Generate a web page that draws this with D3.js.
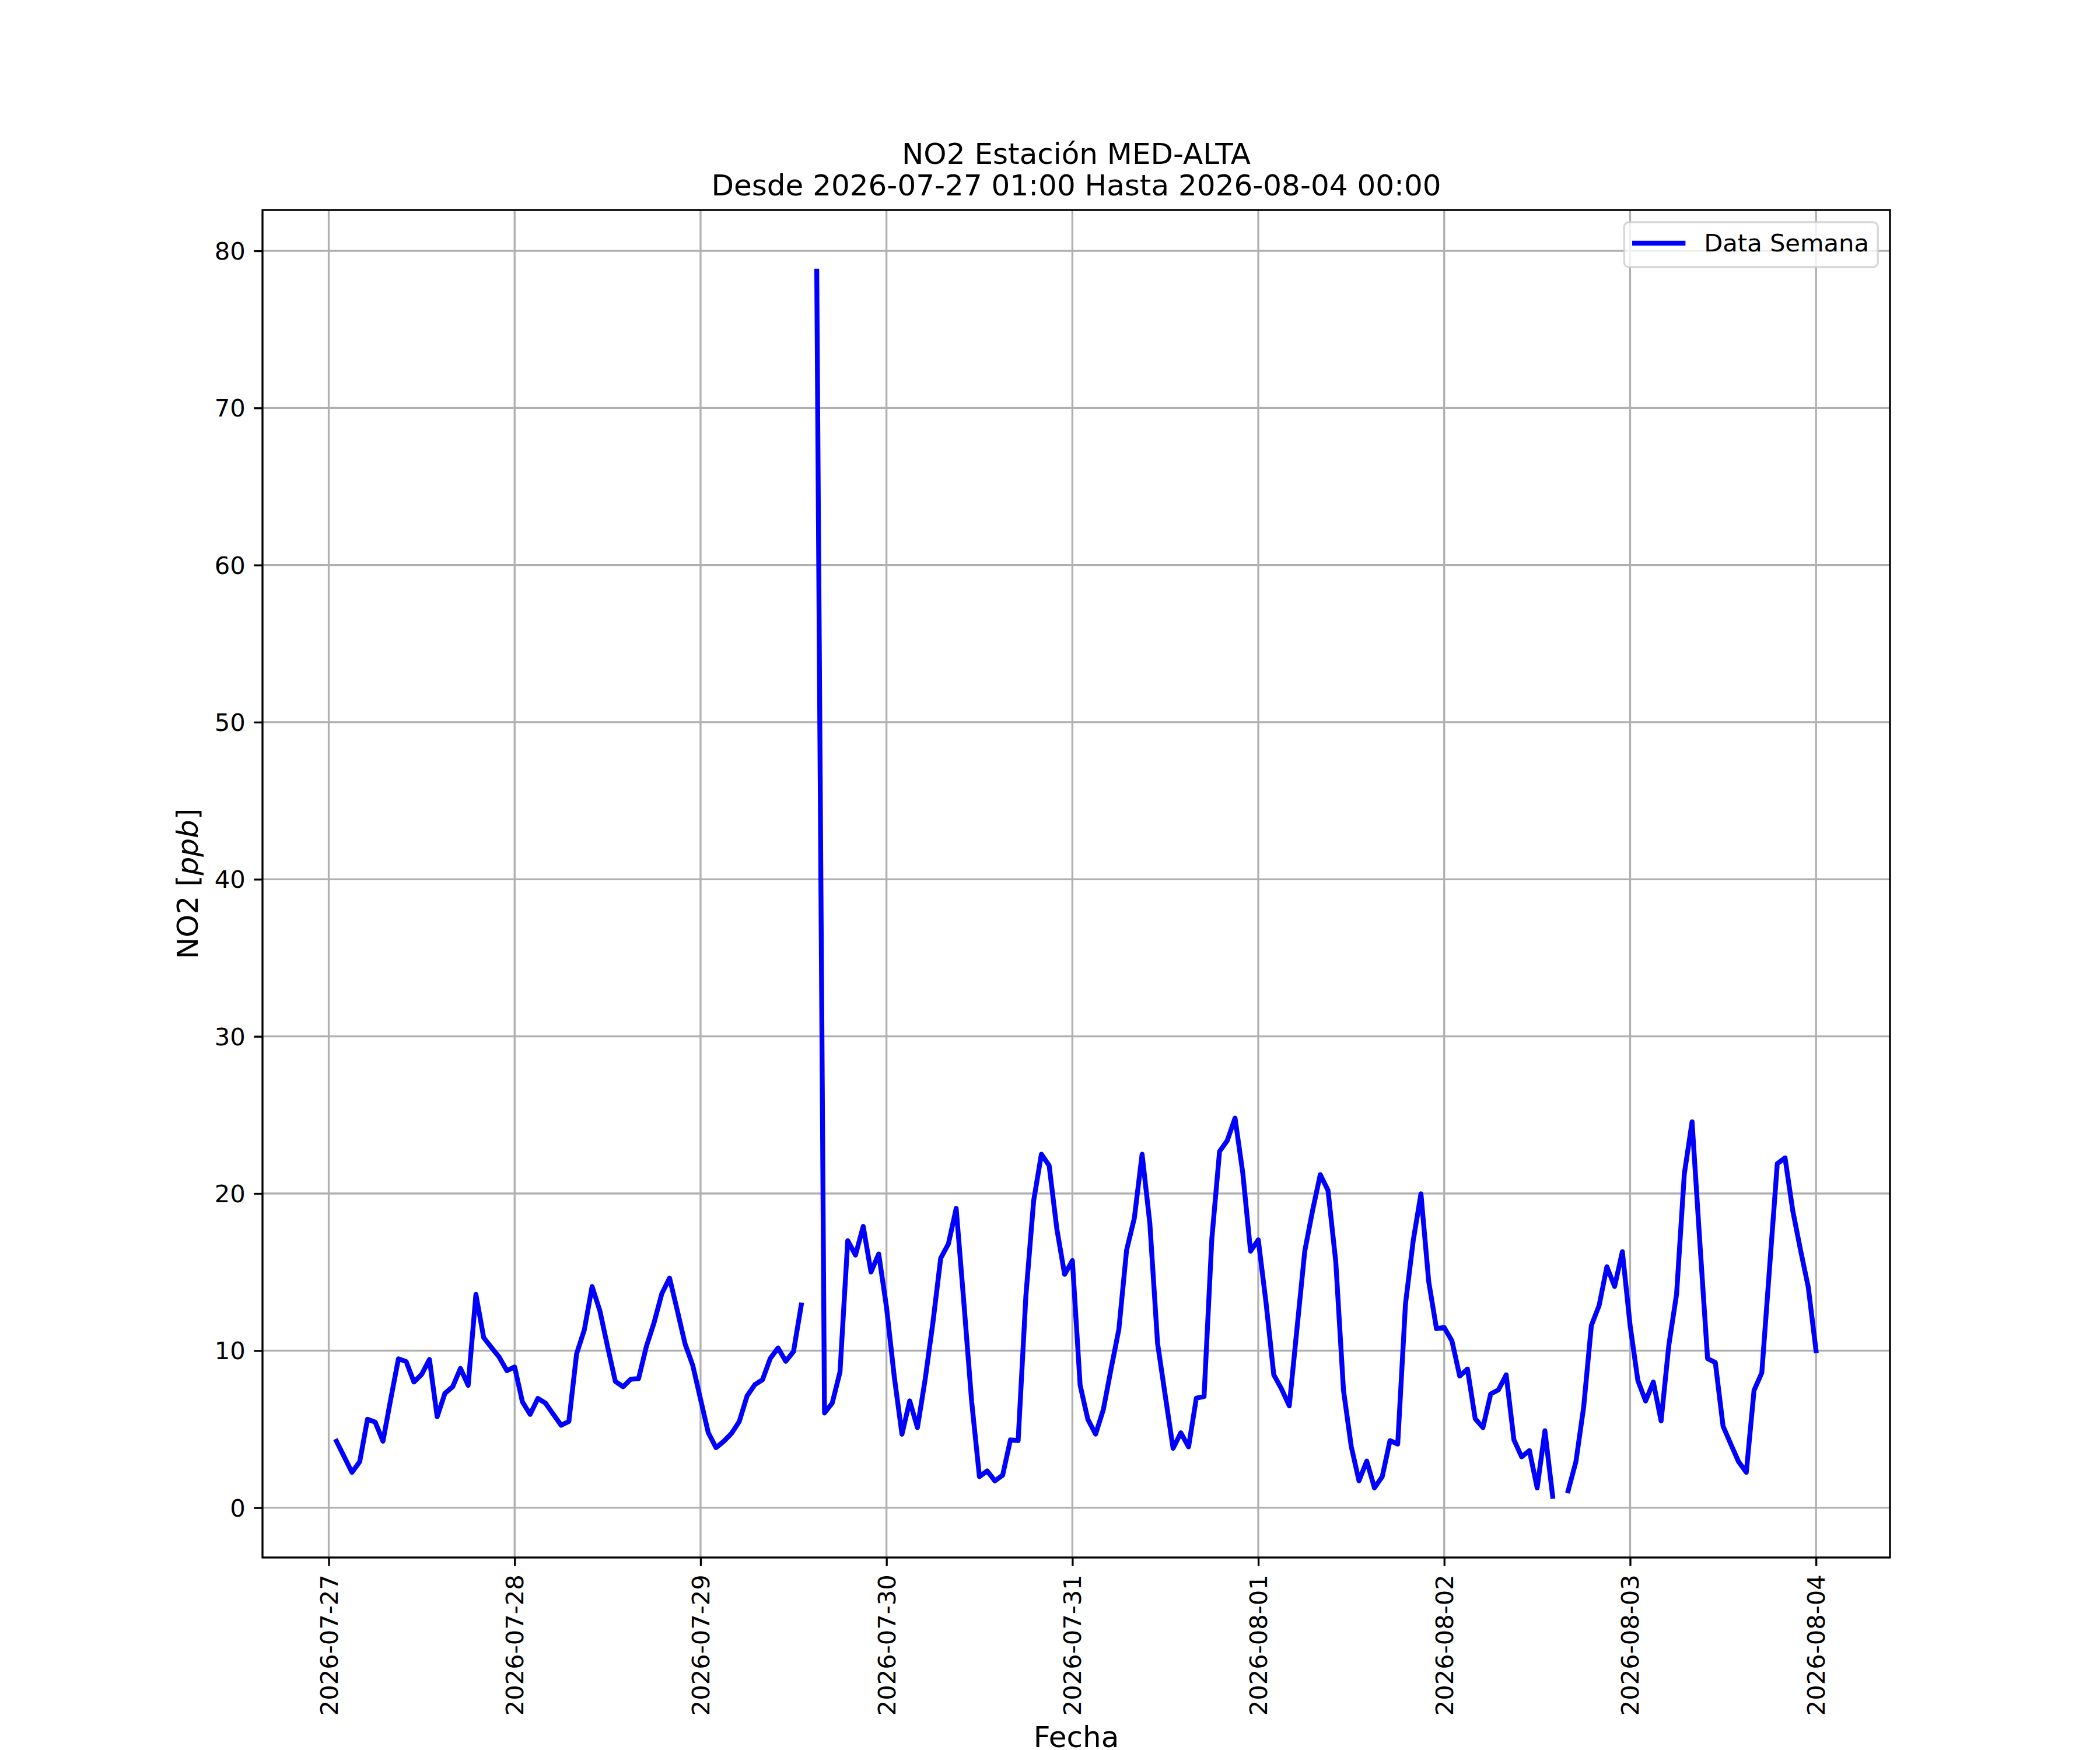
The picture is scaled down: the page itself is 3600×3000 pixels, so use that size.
<!DOCTYPE html>
<html>
<head>
<meta charset="utf-8">
<script src="https://cdn.jsdelivr.net/npm/d3@7"></script>
<style>
  body { margin: 0; background: #fff; }
  text { font-family: "DejaVu Sans", sans-serif; fill: #000; }
</style>
</head>
<body>
<svg id="chart" width="3600" height="3000"></svg>
<script>
// hourly NO2 readings, first one at 2026-07-27 01:00 (null = missing hour)
const startTime = Date.UTC(2026, 6, 27, 1);
const no2Values = [
  4.23, 3.24, 2.25, 2.93, 5.63, 5.45, 4.23, 6.9, 9.48, 9.30, 8.0, 8.49,
  9.44, 5.79, 7.28, 7.70, 8.87, 7.79, 13.58, 10.83, 10.2, 9.59, 8.72, 8.96,
  6.74, 5.94, 6.96, 6.65, 5.94, 5.25, 5.49, 9.80, 11.33, 14.08, 12.54, 10.25,
  8.04, 7.70, 8.18, 8.22, 10.25, 11.78, 13.63, 14.62, 12.55, 10.43, 9.05, 6.9,
  4.77, 3.82, 4.23, 4.73, 5.49, 7.11, 7.83, 8.15, 9.50, 10.17, 9.32, 9.94,
  12.9, null, 78.7, 6.03, 6.66, 8.64, 17.0, 16.08, 17.91, 15.0, 16.15, 12.78,
  8.37, 4.68, 6.8, 5.1, 8.19, 11.8, 15.88, 16.8, 19.05, 13.0, 6.75, 1.98,
  2.34, 1.71, 2.07, 4.32, 4.27, 13.5, 19.53, 22.5, 21.78, 17.73, 14.85, 15.73,
  7.8, 5.62, 4.68, 6.25, 8.85, 11.35, 16.4, 18.43, 22.5, 18.1, 10.45, 7.1,
  3.78, 4.77, 3.87, 6.97, 7.08, 17.1, 22.68, 23.37, 24.8, 21.3, 16.33, 17.05,
  13.05, 8.46, 7.56, 6.48, 11.43, 16.33, 18.9, 21.2, 20.2, 15.67, 7.47, 3.9,
  1.71, 2.97, 1.26, 1.98, 4.27, 4.05, 12.96, 17.0, 19.98, 14.4, 11.4, 11.47,
  10.62, 8.38, 8.83, 5.67, 5.1, 7.24, 7.5, 8.46, 4.32, 3.24, 3.64, 1.26,
  4.9, 0.73, null, 1.08, 2.92, 6.39, 11.6, 12.87, 15.34, 14.08, 16.3, 11.6,
  8.1, 6.79, 8.0, 5.53, 10.35, 13.6, 21.26, 24.56, 16.9, 9.49, 9.24, 5.19,
  4.05, 2.93, 2.25, 7.47, 8.59, 15.25, 21.9, 22.27, 18.9, 16.4, 14.04, 10.0
];
const yTicks = [0, 10, 20, 30, 40, 50, 60, 70, 80];

const titleLines = ["NO2 Estación MED-ALTA", "Desde 2026-07-27 01:00 Hasta 2026-08-04 00:00"];
const xLabel = "Fecha";
const seriesName = "Data Semana";

const W = 3600, H = 3000;
const margin = {left: 450, right: 360, top: 360, bottom: 330};
const fs = 41.67;           // 10pt at 300 dpi
const fsBig = 50;           // 12pt
const lw = 3.33;            // 0.8pt
const dataLw = 8.33;        // 2pt
const tickLen = 14.6, tickPad = 14.6;

const data = no2Values.map((v, i) => ({t: new Date(startTime + i * 3600e3), v}));

const svg = d3.select("#chart");
svg.append("rect").attr("width", W).attr("height", H).attr("fill", "#fff");

const x0 = margin.left, x1 = W - margin.right;
const y0 = H - margin.bottom, y1 = margin.top;

// matplotlib-like 5% margins
const tExt = d3.extent(data, d => d.t);
const tPad = (tExt[1] - tExt[0]) * 0.05;
const vExt = d3.extent(data.filter(d => d.v != null), d => d.v);
const vPad = (vExt[1] - vExt[0]) * 0.05;

const x = d3.scaleUtc()
  .domain([new Date(+tExt[0] - tPad), new Date(+tExt[1] + tPad)])
  .range([x0, x1]);
const y = d3.scaleLinear()
  .domain([vExt[0] - vPad, vExt[1] + vPad])
  .range([y0, y1]);

const dayTicks = d3.utcDay.range(d3.utcDay.ceil(x.domain()[0]), x.domain()[1]);
const fmt = d3.utcFormat("%Y-%m-%d");

// grid
const grid = svg.append("g").attr("stroke", "#b0b0b0").attr("stroke-width", lw);
grid.selectAll("line.gx").data(dayTicks).join("line")
  .attr("x1", d => x(d)).attr("x2", d => x(d)).attr("y1", y0).attr("y2", y1);
grid.selectAll("line.gy").data(yTicks).join("line")
  .attr("y1", d => y(d)).attr("y2", d => y(d)).attr("x1", x0).attr("x2", x1);

// data line
const line = d3.line()
  .defined(d => d.v != null)
  .x(d => x(d.t))
  .y(d => y(d.v));

svg.append("path")
  .datum(data)
  .attr("fill", "none")
  .attr("stroke", "#0000ff")
  .attr("stroke-width", dataLw)
  .attr("stroke-linejoin", "round")
  .attr("stroke-linecap", "square")
  .attr("d", line);

// axes
const xAxis = svg.append("g")
  .attr("transform", `translate(0,${y0})`)
  .call(d3.axisBottom(x).tickValues(dayTicks).tickFormat(fmt)
    .tickSize(tickLen).tickPadding(tickPad));
xAxis.select(".domain").remove();
xAxis.selectAll(".tick line").attr("stroke", "#000").attr("stroke-width", lw);
xAxis.selectAll(".tick text")
  .attr("font-size", fs)
  .attr("y", 0).attr("dy", null)
  .attr("text-anchor", "end")
  .attr("dominant-baseline", "central")
  .attr("transform", `translate(0,${tickLen + tickPad}) rotate(-90)`);

const yAxis = svg.append("g")
  .attr("transform", `translate(${x0},0)`)
  .call(d3.axisLeft(y).tickValues(yTicks).tickFormat(d3.format("d"))
    .tickSize(tickLen).tickPadding(tickPad));
yAxis.select(".domain").remove();
yAxis.selectAll(".tick line").attr("stroke", "#000").attr("stroke-width", lw);
yAxis.selectAll(".tick text")
  .attr("font-size", fs)
  .attr("dy", null)
  .attr("dominant-baseline", "central");

// spines
svg.append("rect")
  .attr("x", x0).attr("y", y1)
  .attr("width", x1 - x0).attr("height", y0 - y1)
  .attr("fill", "none").attr("stroke", "#000").attr("stroke-width", lw);

// labels
svg.append("text")
  .attr("x", (x0 + x1) / 2).attr("y", 2995)
  .attr("text-anchor", "middle").attr("font-size", fsBig)
  .text(xLabel);

const yl = svg.append("text")
  .attr("transform", `translate(322,${(y0 + y1) / 2}) rotate(-90)`)
  .attr("text-anchor", "middle").attr("dominant-baseline", "central")
  .attr("font-size", fsBig);
yl.append("tspan").text("NO2 [");
yl.append("tspan").attr("font-style", "italic").text("ppb");
yl.append("tspan").text("]");

const title = svg.append("text")
  .attr("text-anchor", "middle").attr("font-size", fsBig);
title.selectAll("tspan").data(titleLines).join("tspan")
  .attr("x", (x0 + x1) / 2)
  .attr("y", (d, i) => 281 + i * 54)
  .text(d => d);

// legend (upper right)
const lg = {w: 435, h: 77, pad: 20.8};
const lgx = x1 - lg.pad - lg.w, lgy = y1 + lg.pad;
const legend = svg.append("g").attr("transform", `translate(${lgx},${lgy})`);
legend.append("rect")
  .attr("width", lg.w).attr("height", lg.h).attr("rx", 8.3)
  .attr("fill", "#fff").attr("fill-opacity", 0.8)
  .attr("stroke", "#cccccc").attr("stroke-opacity", 0.8).attr("stroke-width", lw);
legend.append("line")
  .attr("x1", 18).attr("x2", 101).attr("y1", 36).attr("y2", 36)
  .attr("stroke", "#0000ff").attr("stroke-width", dataLw).attr("stroke-linecap", "square");
legend.append("text")
  .attr("x", 137).attr("y", 50).attr("font-size", fs)
  .text(seriesName);
</script>
</body>
</html>
